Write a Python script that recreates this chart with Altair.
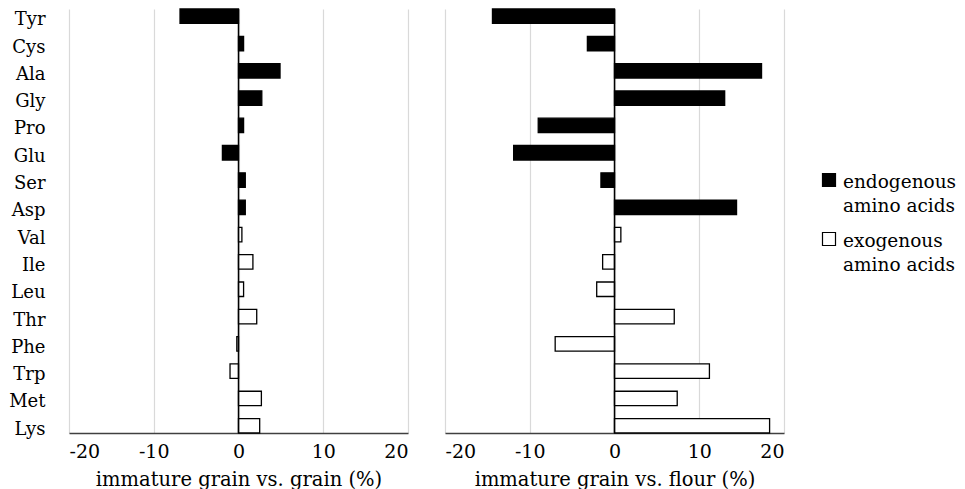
import altair as alt
import pandas as pd

amino = ["Tyr", "Cys", "Ala", "Gly", "Pro", "Glu", "Ser", "Asp",
         "Val", "Ile", "Leu", "Thr", "Phe", "Trp", "Met", "Lys"]
groups = ["endogenous amino acids", "exogenous amino acids"]
group_of = [groups[0]] * 8 + [groups[1]] * 8
grain = [-6.9, 0.6, 4.9, 2.75, 0.6, -1.9, 0.8, 0.8,
         0.4, 1.7, 0.6, 2.15, -0.2, -1.0, 2.7, 2.5]
flour = [-14.4, -3.2, 17.35, 13.0, -9.0, -11.9, -1.6, 14.4,
         0.75, -1.4, -2.1, 7.05, -7.0, 11.2, 7.4, 18.3]
legend_labels = ["endogenous|amino acids", "exogenous|amino acids"]

FONT = "DejaVu Serif"
FS = 18
FS_T = 19.5
FS_L = 18.5

df = pd.DataFrame({"amino": amino, "group": group_of, "grain": grain, "flour": flour})
zero_df = pd.DataFrame({"zero": [0]})
leg_df = pd.DataFrame({"group": groups, "label": legend_labels})

fill_scale = alt.Scale(domain=groups, range=["#000000", "#ffffff"])


def panel(field, title, show_y):
    x = alt.X(f"{field}:Q", title=title,
              scale=alt.Scale(domain=[-20, 20], nice=False),
              axis=alt.Axis(values=[-20, -10, 0, 10, 20], grid=True,
                            labelExpr="'' + datum.value",
                            gridColor="#d9d9d9", gridWidth=1.2, ticks=False,
                            domainColor="#404040", domainWidth=1.6,
                            labelFont=FONT, labelFontSize=19, labelColor="#000",
                            labelPadding=9, titleFont=FONT, titleFontSize=FS_T,
                            titleFontWeight="normal", titleColor="#000",
                            titlePadding=9))
    if show_y:
        yaxis = alt.Axis(title=None, ticks=False, domain=False, grid=False,
                         labelFont=FONT, labelFontSize=FS, labelColor="#000",
                         labelPadding=24, labelOffset=4)
    else:
        yaxis = None
    y = alt.Y("amino:N", sort=amino, axis=yaxis,
              scale=alt.Scale(paddingInner=0.47, paddingOuter=0))
    bars = alt.Chart(df).mark_bar(stroke="#000", strokeWidth=1.3).encode(
        x=x, y=y,
        fill=alt.Fill("group:N", scale=fill_scale, legend=None),
    )
    zero = alt.Chart(zero_df).mark_rule(color="#000", strokeWidth=1.5).encode(
        x=alt.X("zero:Q", scale=alt.Scale(domain=[-20, 20], nice=False))
    )
    return alt.layer(bars, zero).properties(width=339, height=424)


left = panel("grain", "immature grain vs. grain (%)", True)
right = panel("flour", "immature grain vs. flour (%)", False)

ly = alt.Y("group:N", sort=groups, axis=None,
           scale=alt.Scale(type="point", range=[171, 230], padding=0))
sym = alt.Chart(leg_df).mark_square(size=169, stroke="#000", strokeWidth=1.2, opacity=1).encode(
    x=alt.value(8), y=ly,
    fill=alt.Fill("group:N", scale=fill_scale, legend=None),
)
txt = alt.Chart(leg_df).mark_text(align="left", baseline="alphabetic", dy=8,
                                  lineBreak="|", lineHeight=24,
                                  font=FONT, fontSize=FS_L, color="#000").encode(
    x=alt.value(22), y=ly, text="label:N"
)
legend = alt.layer(sym, txt).properties(width=120, height=424)

chart = alt.hconcat(left, right, legend, spacing=37, bounds="flush").properties(
    padding=0, background="white"
).configure_view(stroke="transparent", strokeWidth=0)

chart.save("out.html", embed_options={"renderer": "svg", "actions": False})
